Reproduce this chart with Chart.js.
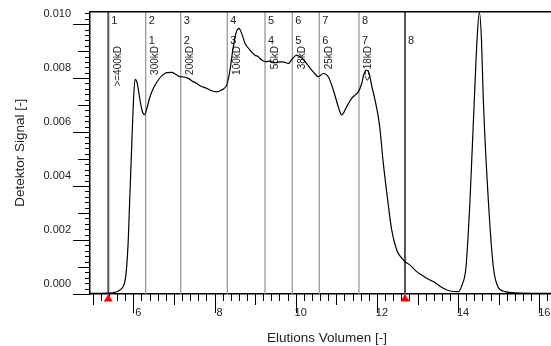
<!DOCTYPE html>
<html lang="de">
<head>
    <meta charset="UTF-8">
    <title>Elutionsprofil</title>
    <script src="https://cdn.jsdelivr.net/npm/chart.js"></script>
    <style>
        body { margin: 0; background: #fff; }
        .chartBox { width: 551px; height: 346px; }
    </style>
</head>
<body>
    <div class="chartBox">
        <canvas id="gpcChart" width="551" height="346"></canvas>
    </div>
    <script>
        // Elutions Volumen [-] und Detektor Signal [-]
        var elutionVolume = [
            4.93, 5.38, 5.55, 5.67, 5.80, 5.87, 5.90, 5.96, 6.005, 6.042, 6.09, 6.165, 6.214, 6.276,
            6.337, 6.411, 6.51, 6.616, 6.707, 6.823, 6.946, 7.052, 7.15, 7.249, 7.355, 7.446, 7.562,
            7.667, 7.808, 7.914, 8.054, 8.177, 8.246, 8.30, 8.345, 8.382, 8.463, 8.53, 8.603, 8.665,
            8.751, 8.874, 8.998, 9.071, 9.163, 9.268, 9.367, 9.49, 9.613, 9.712, 9.818, 9.909, 10.025,
            10.106, 10.18, 10.271, 10.352, 10.433, 10.557, 10.68, 10.803, 10.926, 11.049, 11.133, 11.19,
            11.256, 11.379, 11.46, 11.542, 11.626, 11.682, 11.741, 11.805, 11.879, 11.953, 12.059,
            12.158, 12.256, 12.365, 12.488, 12.569, 12.692, 12.815, 12.98, 13.086, 13.227, 13.389,
            13.635, 13.80, 14.005, 14.096, 14.195, 14.293, 14.399, 14.466, 14.522, 14.576, 14.621,
            14.744, 14.867, 14.983, 15.155, 15.40, 16.29
        ];
        var detectorSignal = [
            0.00002, 0.00003, 0.00006, 0.00015, 0.00052, 0.00181, 0.00300, 0.00546, 0.00719, 0.00795,
            0.00785, 0.00719, 0.00681, 0.00665, 0.00689, 0.00731, 0.00767, 0.00793, 0.00809, 0.00820,
            0.00821, 0.00813, 0.00805, 0.00804, 0.00799, 0.00789, 0.00780, 0.00770, 0.00762, 0.00754,
            0.00749, 0.00756, 0.00763, 0.00774, 0.00800, 0.00830, 0.00916, 0.00967, 0.00984, 0.00967,
            0.00929, 0.00904, 0.00885, 0.00880, 0.00867, 0.00861, 0.00863, 0.00857, 0.00860, 0.00859,
            0.00854, 0.00870, 0.00885, 0.00879, 0.00870, 0.00854, 0.00837, 0.00823, 0.00805, 0.00817,
            0.00805, 0.00756, 0.00694, 0.00663, 0.00674, 0.00694, 0.00725, 0.00737, 0.00749, 0.00780,
            0.00815, 0.00830, 0.00819, 0.00767, 0.00719, 0.00632, 0.00484, 0.00360, 0.00237, 0.00163,
            0.00141, 0.00120, 0.00107, 0.00083, 0.00072, 0.00058, 0.00046, 0.00021, 0.00011, 0.00009,
            0.00033, 0.00101, 0.00348, 0.00719, 0.00941, 0.01044, 0.00941, 0.00719, 0.00348, 0.00101,
            0.00026, 0.00009, 0.00004, 0.00002
        ];

        // Fraktionsgrenzen und Beschriftungen
        var markerVolumes = [5.384, 6.305, 7.167, 8.315, 9.244, 9.916, 10.581, 11.559, 12.692];
        var fractionLabels = ['1', '2', '3', '4', '5', '6', '7', '8', ''];
        var secondLabels = ['', '1', '2', '3', '4', '5', '6', '7', '8'];
        var massLabels = ['>=400kD', '300kD', '200kD', '100kD', '55kD', '38kD', '25kD', '<=18kD', ''];
        var integrationLimits = [5.384, 12.692];

        var xTicks = [6, 8, 10, 12, 14, 16];
        var yTicks = [0, 0.002, 0.004, 0.006, 0.008, 0.010];

        var points = elutionVolume.map(function (v, i) {
            return { x: v, y: detectorSignal[i] };
        });

        var fontName = '"Liberation Sans", Arial, sans-serif';

        // senkrechte Linien + Texte
        var markerPlugin = {
            id: 'markers',
            beforeDatasetsDraw: function (chart) {
                var ctx = chart.ctx, area = chart.chartArea, xs = chart.scales.x;
                ctx.save();
                markerVolumes.forEach(function (v, i) {
                    var px = xs.getPixelForValue(v);
                    var edge = (i === 0 || i === markerVolumes.length - 1);
                    ctx.strokeStyle = edge ? '#555' : '#999';
                    ctx.lineWidth = edge ? 2 : 1.3;
                    ctx.beginPath();
                    ctx.moveTo(px, area.top);
                    ctx.lineTo(px, area.bottom);
                    ctx.stroke();

                    ctx.fillStyle = '#222';
                    ctx.font = '11px ' + fontName;
                    ctx.textAlign = 'left';
                    ctx.textBaseline = 'alphabetic';
                    if (fractionLabels[i]) ctx.fillText(fractionLabels[i], px + 3, 24);
                    if (secondLabels[i]) ctx.fillText(secondLabels[i], px + 3, 43.5);
                    if (massLabels[i]) {
                        ctx.save();
                        ctx.font = '10px ' + fontName;
                        ctx.translate(px + 12.5, 46);
                        ctx.rotate(-Math.PI / 2);
                        ctx.textAlign = 'right';
                        ctx.fillText(massLabels[i], 0, 0);
                        ctx.restore();
                    }
                });
                ctx.restore();
            },
            afterDraw: function (chart) {
                var ctx = chart.ctx, area = chart.chartArea;
                var xs = chart.scales.x, ys = chart.scales.y;
                ctx.save();
                // oberer Rahmen
                ctx.strokeStyle = '#000';
                ctx.lineWidth = 1.5;
                ctx.beginPath();
                ctx.moveTo(area.left, area.top);
                ctx.lineTo(area.right, area.top);
                ctx.stroke();

                // Teilstriche
                ctx.lineWidth = 1;
                ctx.beginPath();
                for (var i = 25; i <= 81; i++) {
                    var px = Math.round(xs.getPixelForValue(i / 5)) + 0.5;
                    var len = (i % 10 === 0) ? 19 : (i % 5 === 0) ? 11 : 7;
                    ctx.moveTo(px, area.bottom);
                    ctx.lineTo(px, area.bottom + len);
                }
                for (var j = 0; j <= 52; j++) {
                    var py = Math.round(ys.getPixelForValue(j * 0.0002)) + 0.5;
                    var l = (j % 10 === 0) ? 17 : (j % 5 === 0) ? 12 : 5;
                    ctx.moveTo(area.left - l, py);
                    ctx.lineTo(area.left, py);
                }
                ctx.stroke();

                // Integrationsgrenzen
                ctx.fillStyle = '#ff0000';
                integrationLimits.forEach(function (v) {
                    var px = xs.getPixelForValue(v);
                    ctx.beginPath();
                    ctx.moveTo(px, area.bottom);
                    ctx.lineTo(px - 4.5, area.bottom + 7.5);
                    ctx.lineTo(px + 4.5, area.bottom + 7.5);
                    ctx.closePath();
                    ctx.fill();
                });

                // x-Achsentitel (etwas rechts der Mitte wie im Original)
                ctx.fillStyle = '#222';
                ctx.font = '13.5px ' + fontName;
                ctx.textAlign = 'center';
                ctx.textBaseline = 'middle';
                ctx.fillText('Elutions Volumen [-]', 327, 338);
                ctx.restore();
            }
        };

        new Chart(document.getElementById('gpcChart').getContext('2d'), {
            type: 'line',
            data: {
                datasets: [{
                    label: 'Detektor Signal',
                    data: points,
                    borderColor: '#000',
                    borderWidth: 1.2,
                    pointRadius: 0,
                    fill: false,
                    cubicInterpolationMode: 'monotone'
                }]
            },
            options: {
                responsive: false,
                animation: false,
                layout: { padding: { top: 11.7, right: 0, left: 0, bottom: 0 } },
                plugins: { legend: { display: false }, tooltip: { enabled: false } },
                scales: {
                    x: {
                        type: 'linear',
                        min: 4.9335,
                        max: 16.288,
                        afterBuildTicks: function (scale) {
                            scale.ticks = xTicks.map(function (v) { return { value: v }; });
                        },
                        afterFit: function (scale) {
                            scale.height = 52;
                            scale.paddingLeft = 0;
                            scale.paddingRight = 0;
                        },
                        grid: { display: false, drawTicks: false },
                        border: { display: true, color: '#000', width: 1.5 },
                        ticks: {
                            color: '#222',
                            font: { family: fontName, size: 11 },
                            padding: 12,
                            labelOffset: 5,
                            maxRotation: 0,
                            autoSkip: false
                        }
                    },
                    y: {
                        type: 'linear',
                        min: 0,
                        max: 0.01046,
                        afterBuildTicks: function (scale) {
                            scale.ticks = yTicks.map(function (v) { return { value: v }; });
                        },
                        afterFit: function (scale) {
                            scale.width = 90;
                            scale.paddingTop = 0;
                            scale.paddingBottom = 0;
                        },
                        grid: { display: false, drawTicks: false },
                        border: { display: true, color: '#000', width: 1.5 },
                        ticks: {
                            color: '#222',
                            font: { family: fontName, size: 11 },
                            padding: 19,
                            labelOffset: -10,
                            callback: function (v) { return v.toFixed(3); }
                        },
                        title: {
                            display: true,
                            text: 'Detektor Signal [-]',
                            color: '#222',
                            font: { family: fontName, size: 13.5 },
                            padding: { top: 12, bottom: 0 }
                        }
                    }
                }
            },
            plugins: [markerPlugin]
        });
    </script>
</body>
</html>
